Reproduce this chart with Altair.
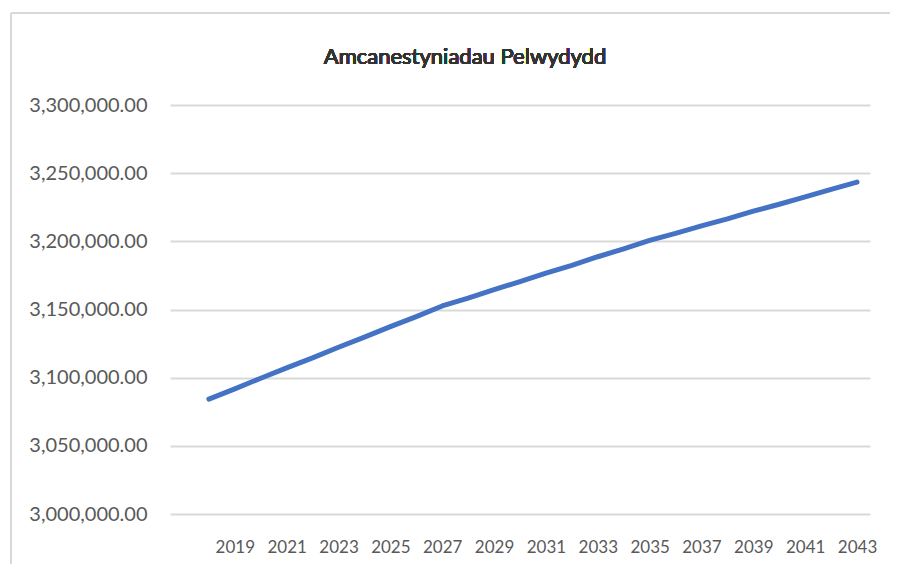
import altair as alt
import pandas as pd

years = list(range(2018, 2044))
values = [
    3084300, 3091800, 3099600, 3107200, 3114500, 3122300, 3129700, 3137400, 3144800,
    3152600, 3158300, 3164600, 3170400, 3176600, 3182400, 3188700, 3194500, 3200700,
    3205900, 3211400, 3216500, 3222100, 3227200, 3232600, 3238100, 3243400,
]
y_ticks = [3000000, 3050000, 3100000, 3150000, 3200000, 3250000, 3300000]
x_ticks = list(range(2019, 2044, 2))
title_text = "Amcanestyniadau Pelwydydd"

df = pd.DataFrame({"year": years, "value": values})

FONT = "Lato"
GRID = "#d9d9d9"
LABEL = "#595959"

line = alt.Chart(df).mark_line(color="#4472C4", strokeWidth=5, strokeCap="round", strokeJoin="round").encode(
    x=alt.X("year:Q",
            scale=alt.Scale(domain=[2016.5, 2043.5], nice=False, zero=False),
            axis=alt.Axis(values=x_ticks, format="d", title=None, grid=False, domain=False,
                          ticks=False, labelFont=FONT, labelFontSize=17, labelColor=LABEL,
                          labelPadding=25, labelOverlap=False)),
    y=alt.Y("value:Q",
            scale=alt.Scale(domain=[3000000, 3300000], nice=False, zero=False),
            axis=alt.Axis(values=y_ticks, format=",.2f", title=None, domain=False, ticks=False,
                          gridColor=GRID, gridWidth=2, labelFont=FONT, labelFontSize=20,
                          labelColor=LABEL, labelPadding=23)),
)

frame_left = alt.Chart(df).mark_rule(color=GRID, strokeWidth=2).encode(
    x=alt.value(-159), y=alt.value(-92), y2=alt.value(470))
frame_top = alt.Chart(df).mark_rule(color=GRID, strokeWidth=2).encode(
    x=alt.value(-159), x2=alt.value(760), y=alt.value(-92))

title = alt.Chart(df).mark_text(font=FONT, fontSize=22, fontWeight="normal", color="#333333",
                                align="center", baseline="middle").encode(
    x=alt.value(295), y=alt.value(-48), text=alt.value(title_text))

chart = alt.layer(frame_left, frame_top, line, title).properties(
    width=700, height=409,
    autosize=alt.AutoSizeParams(type="none"),
    padding={"left": 162, "top": 97, "right": 20, "bottom": 50},
).configure(background="white").configure_view(stroke=None)

chart.save("out.html", embed_options={"renderer": "svg", "actions": False})
